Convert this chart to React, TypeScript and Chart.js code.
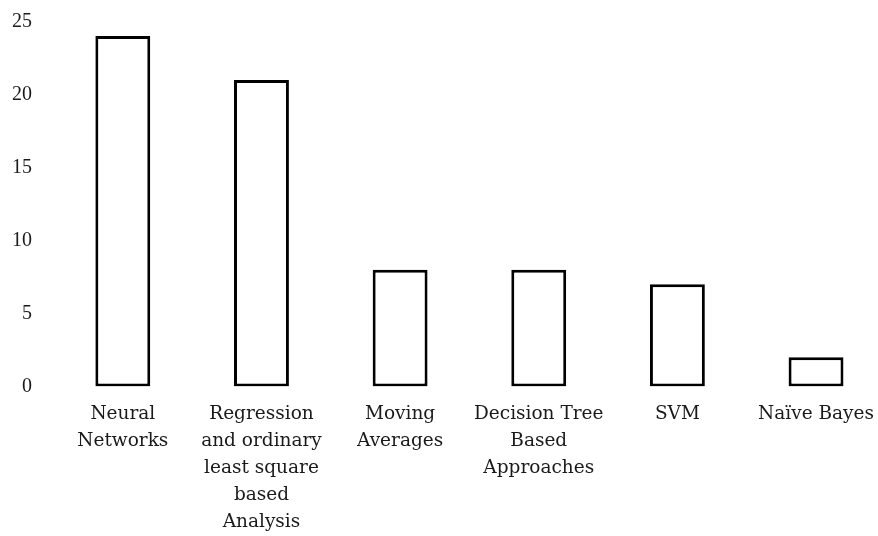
import React, { useEffect, useRef } from "react";
import { Chart, registerables } from "chart.js";

Chart.register(...registerables);

const categories: string[][] = [
  ["Neural", "Networks"],
  ["Regression", "and ordinary", "least square", "based", "Analysis"],
  ["Moving", "Averages"],
  ["Decision Tree", "Based", "Approaches"],
  ["SVM"],
  ["Naïve Bayes"],
];
const values: number[] = [24, 21, 8, 8, 7, 2];
const yMin = 0;
const yMax = 25;
const yStep = 5;

export default function App() {
  const ref = useRef<HTMLCanvasElement | null>(null);
  useEffect(() => {
    if (!ref.current) return;
    const chart = new Chart(ref.current, {
      type: "bar",
      data: {
        labels: categories,
        datasets: [
          {
            data: values,
            backgroundColor: "#ffffff",
            borderColor: "#000000",
            borderWidth: 3,
            borderSkipped: false,
            barPercentage: 0.396,
            categoryPercentage: 1,
          },
        ],
      },
      options: {
        animation: false,
        responsive: false,
        maintainAspectRatio: false,
        layout: { padding: { top: 21.5, right: 0, left: 0, bottom: 0 } },
        plugins: { legend: { display: false }, tooltip: { enabled: false } },
        scales: {
          x: {
            grid: { display: false, drawTicks: false },
            border: { display: false },
            ticks: {
              color: "#1a1a1a",
              font: { family: "'DejaVu Serif', serif", size: 18.5, lineHeight: 1.46 },
              padding: 14,
              maxRotation: 0,
              autoSkip: false,
            },
            afterFit: (s: any) => {
              s.height = 149.5;
            },
          },
          y: {
            min: yMin,
            max: yMax,
            grid: { display: false, drawTicks: false },
            border: { display: false },
            ticks: {
              stepSize: yStep,
              color: "#1a1a1a",
              font: { family: "'Liberation Serif', serif", size: 20 },
              padding: 21.5,
            },
            afterFit: (s: any) => {
              s.width = 53.5;
              s.paddingTop = 0;
              s.paddingBottom = 0;
            },
          },
        },
      },
    });
    return () => chart.destroy();
  }, []);
  return (
    <div style={{ position: "absolute", left: 0, top: 0, width: 878, height: 536, overflow: "hidden", background: "#fff" }}>
      <canvas ref={ref} width={888} height={536} style={{ display: "block" }} />
    </div>
  );
}
